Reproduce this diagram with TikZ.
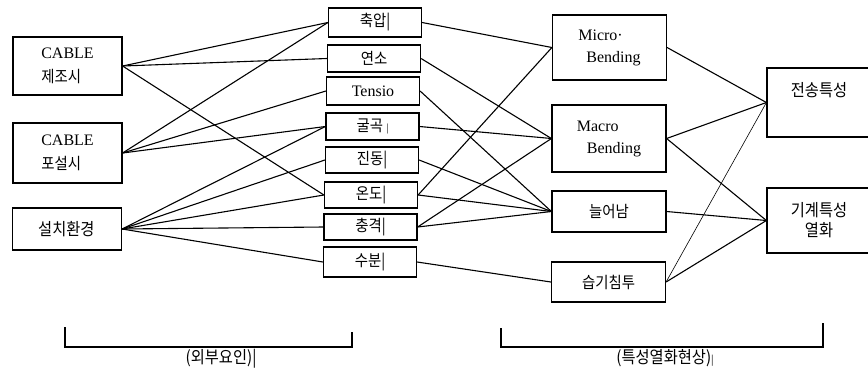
\documentclass[tikz,border=0pt]{standalone}
\usepackage{fontspec}
\setmainfont{Liberation Serif}
\newfontfamily\kr[FakeStretch=0.9]{Noto Sans CJK KR}

\tikzset{
	box/.style={draw, line width=1.2pt, inner sep=0pt},
	lbox/.style={box, minimum width=109pt, align=left, font=\fontsize{16}{24}\selectfont},
	mbox/.style={box, minimum width=93pt, font=\kr\fontsize{16}{20}\selectfont},
	rbox/.style={box, minimum width=114pt, align=left, font=\fontsize{16}{22}\selectfont},
	endbox/.style={box, minimum width=120pt},
	ktext/.style={inner sep=0pt, align=center, font=\kr\fontsize{17}{20}\selectfont},
	lnk/.style={line width=1.1pt},
	brk/.style={line width=1.2pt}
}

\begin{document}
\begin{tikzpicture}[x=1pt, y=-1pt]
			%%%%% START %%%%%
			\useasboundingbox (0,0) rectangle (868,373);
			\clip (0,0) rectangle (868,373);
			
			% causes
			\node[lbox, minimum height=58pt] (cab1) at (67.5,66) {CABLE\\{\kr\fontsize{16}{24}\selectfont 제조시}};
			\node[lbox, minimum height=60pt] (cab2) at (67.5,153) {CABLE\\{\kr\fontsize{16}{24}\selectfont 포설시}};
			\node[box, minimum width=109pt, minimum height=42pt] (env) at (67,229) {};
			\node[ktext, anchor=west] (env-t) at (38,229) {설치환경};
			
			% factors
			\node[mbox, minimum height=29pt] (press) at (375,22.5) {축압|};
			\node[mbox, minimum height=27pt] (burn) at (374,58.5) {연소};
			\node[mbox, minimum height=28pt, font=\fontsize{16}{20}\selectfont] (tens) at (373,91) {Tensio};
			\node[mbox, minimum height=27pt] (bend) at (372.5,126.5) {굴곡 {\fontsize{9}{9}\selectfont|}};
			\node[mbox, minimum height=26pt] (vibr) at (372,160) {진동|};
			\node[mbox, minimum height=26pt] (temp) at (371,195) {온도|};
			\node[mbox, minimum height=26pt] (shock) at (370.5,227) {충격|};
			\node[mbox, minimum height=30pt] (water) at (370,262) {수분|};
			
			% effects
			\node[rbox, minimum height=65pt] (micro) at (609.5,47.5) {Micro·\\\hspace*{8pt}Bending};
			\node[rbox, minimum height=67pt] (macro) at (609,138.5) {Macro\\\hspace*{10pt}Bending};
			\node[box, minimum width=114pt, minimum height=41pt, font=\kr\fontsize{16}{20}\selectfont] (stretch) at (609,211.5) {늘어남};
			\node[box, minimum width=114pt, minimum height=40pt, font=\kr\fontsize{16}{20}\selectfont] (moist) at (608.5,282) {습기침투};
			
			% results
			\node[endbox, minimum height=69pt] (trans) at (827,102.5) {};
			\node[ktext] (trans-t) at (819,90) {전송특성};
			\node[endbox, minimum height=65pt] (mech) at (827,220.5) {};
			\node[ktext] (mech-t) at (819,220) {기계특성\\열화};
			
			% causes -> factors
			\draw[lnk] (cab1.east) -- (press.west);
			\draw[lnk] (cab1.east) -- (burn.west);
			\draw[lnk] (cab1.east) -- (temp.west);
			\draw[lnk] (cab2.east) -- (press.west);
			\draw[lnk] (cab2.east) -- (tens.west);
			\draw[lnk] (cab2.east) -- (bend.west);
			\draw[lnk] (env.east) -- (bend.west);
			\draw[lnk] (env.east) -- (vibr.west);
			\draw[lnk] (env.east) -- (temp.west);
			\draw[lnk] (env.east) -- (shock.west);
			\draw[lnk] (env.east) -- (water.west);
			
			% factors -> effects
			\draw[lnk] (press.east) -- (micro.west);
			\draw[lnk] (burn.east) -- (macro.west);
			\draw[lnk] (tens.east) -- (stretch.west);
			\draw[lnk] (bend.east) -- (macro.west);
			\draw[lnk] (vibr.east) -- (stretch.west);
			\draw[lnk] (temp.east) -- (micro.west);
			\draw[lnk] (temp.east) -- (stretch.west);
			\draw[lnk] (shock.east) -- (macro.west);
			\draw[lnk] (shock.east) -- (stretch.west);
			\draw[lnk] (water.east) -- (moist.west);
			
			% effects -> results
			\draw[lnk] (micro.east) -- (trans.west);
			\draw[lnk] (macro.east) -- (trans.west);
			\draw[lnk] (macro.east) -- (mech.west);
			\draw[lnk] (stretch.east) -- (mech.west);
			\draw[line width=0.6pt] (moist.east) -- (trans.west);
			\draw[lnk] (moist.east) -- (mech.west);
			
			% brackets
			\draw[brk] (65,327) -- (65,347) -- (352,347) -- (352,332);
			\node[ktext] (ext-t) at (221,359) {(외부요인)|};
			\draw[brk] (501,328) -- (501,347) -- (823,347) -- (823,323);
			\node[ktext] (deg-t) at (665,358) {(특성열화현상){\fontsize{10}{10}\selectfont|}};
			
			%%%%% END %%%%%
		\end{tikzpicture}
\end{document}
